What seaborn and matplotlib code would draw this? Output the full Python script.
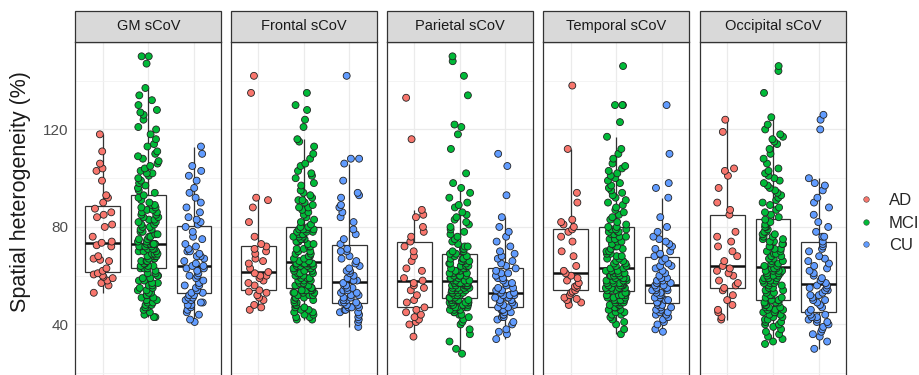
import numpy as np
import pandas as pd
import matplotlib
matplotlib.use("Agg")
import matplotlib.pyplot as plt
from matplotlib.patches import Rectangle
from matplotlib.lines import Line2D
import seaborn as sns

# ---------------- data ----------------
panels = ["GM sCoV", "Frontal sCoV", "Parietal sCoV", "Temporal sCoV", "Occipital sCoV"]
groups = ["AD", "MCI", "CU"]
colors = ["#F8766D", "#00BA38", "#619CFF"]
y_ticks = [40, 80, 120]
y_label = "Spatial heterogeneity (%)"

gm_ad = [53, 56, 57, 58, 59, 59.5, 60, 60.5, 61, 62, 63, 66, 66.5, 67, 68, 72, 72.5,
         73.5, 74, 76, 80, 81, 84, 85, 86, 87.5, 90, 92, 93, 99, 103, 104, 106, 111, 118]
gm_mci = [43, 43, 44, 45, 46, 47, 47, 48, 48, 49, 49, 50, 50, 51, 51, 52, 52, 53, 53, 54, 54,
          55, 55, 56, 56, 57, 57, 58, 58, 59, 59, 60, 60, 61, 61, 62,
          63, 63, 63, 64, 64, 64, 65, 65, 65, 66, 66, 66, 67, 67, 67, 68, 68, 68, 69, 69, 69,
          70, 70, 70, 71, 71, 71, 72, 72, 72, 72, 73, 73, 73, 73, 73,
          73, 74, 74, 75, 75, 76, 76, 77, 77, 78, 78, 79, 79, 80, 80, 81, 81, 82, 82, 83, 83,
          84, 84, 85, 85, 86, 86, 87, 87, 88, 88, 89, 89, 90, 91, 92,
          93, 94, 95, 96, 97, 98, 99, 100, 101, 102, 102, 103, 104, 105, 106, 107, 108, 109,
          110, 111, 113, 114, 116, 118, 120, 121, 124, 126, 127, 128, 130, 132, 134, 137,
          147, 150, 150]
gm_cu = [41, 42, 44, 45, 46, 47, 48, 48, 49, 49, 50, 50, 51, 51, 52, 52,
         53, 53, 54, 55, 56, 56, 57, 58, 59, 60, 60, 61, 62, 63, 63, 64,
         64, 65, 66, 67, 68, 68, 69, 70, 70, 71, 72, 73, 75, 76, 78, 80,
         81, 82, 83, 84, 86, 88, 90, 92, 94, 96, 99, 101, 103, 105, 110, 113]

fr_ad = [46, 47, 48, 50, 51, 52, 53, 53.5, 54, 56, 57, 58, 59, 60, 60, 61,
         61.5, 63, 65, 66, 67, 69, 70, 71, 72, 73, 76, 82, 88, 91, 92, 135, 142]
fr_mci = [42, 42, 43, 43, 44, 44, 45, 45, 46, 46, 47, 47, 48, 48, 49, 49, 50, 50,
          51, 51, 51, 52, 52, 52, 53, 53, 53, 53, 54, 54, 54, 54, 54, 54, 55, 55,
          55, 56, 56, 57, 57, 58, 58, 58, 59, 59, 59, 60, 60, 60, 61, 61, 61, 62, 62, 62,
          63, 63, 63, 63, 64, 64, 64, 64, 65, 65, 65, 65, 65, 65, 65, 65,
          66, 66, 67, 67, 68, 68, 69, 69, 70, 70, 71, 71, 72, 72, 73, 73, 74, 74, 74,
          75, 75, 75, 76, 76, 76, 77, 77, 77, 78, 78, 78, 79, 79, 79, 79, 80,
          80, 81, 82, 83, 84, 85, 86, 87, 88, 88, 89, 90, 91, 91, 92, 93, 94, 95, 97, 98,
          100, 101, 102, 103, 105, 106, 108, 110, 113, 115, 116, 121, 124, 128, 130, 135]
fr_cu = [39, 41, 42, 43, 44, 45, 45, 46, 46, 47, 47, 47, 48, 48, 48, 49,
         49, 49, 50, 50, 51, 51, 52, 52, 53, 53, 54, 54, 55, 55, 56, 56,
         57, 58, 58, 59, 60, 61, 62, 62, 63, 64, 65, 66, 67, 68, 70, 70,
         71, 73, 75, 77, 79, 82, 84, 86, 88, 89, 92, 93, 94, 99, 106, 108, 108, 142]

pa_ad = [35, 40, 41, 42, 43, 44, 45, 46, 47, 49, 50, 52, 54, 55, 56, 57,
         58, 59, 62, 63, 66, 68, 70, 72, 74, 76, 78, 80, 84, 85, 87, 116, 133]
pa_mci = [28, 30, 33, 36, 38, 40, 41, 42, 43, 44, 44, 45, 45, 46, 46, 46, 47, 47, 47, 47,
          48, 48, 48, 48, 48, 49, 49, 49, 49, 49, 49, 50, 50, 50, 50, 50,
          51, 51, 51, 51, 52, 52, 52, 52, 53, 53, 53, 53, 54, 54, 54, 54, 54,
          55, 55, 55, 55, 55, 56, 56, 56, 56, 56, 56, 57, 57, 57, 57, 57, 57, 57, 57,
          58, 58, 58, 58, 59, 59, 59, 59, 60, 60, 60, 60, 61, 61, 61, 62, 62, 62,
          63, 63, 63, 64, 64, 64, 65, 65, 65, 66, 66, 66, 67, 67, 67, 68, 68, 69,
          69, 70, 70, 71, 71, 72, 72, 73, 74, 75, 76, 77, 78, 79, 80, 81, 82, 83, 84, 85, 86,
          88, 89, 90, 92, 94, 96, 98, 102, 112, 118, 121, 122, 134, 142, 148, 150]
pa_cu = [34, 36, 37, 38, 40, 41, 42, 43, 43, 44, 44, 45, 45, 46, 46, 46,
         47, 47, 48, 48, 49, 49, 50, 50, 51, 51, 51, 52, 52, 52, 52, 52,
         53, 53, 54, 54, 55, 55, 56, 57, 57, 58, 59, 59, 60, 61, 61, 62,
         63, 64, 65, 66, 67, 68, 69, 70, 72, 74, 76, 78, 80, 84, 93, 105, 110]

te_ad = [48, 49, 50, 50.5, 51, 52, 53, 53.5, 54, 55, 55.5, 56, 57, 58, 59, 60,
         61, 62, 64, 68, 70, 74, 76, 78, 79, 80, 81, 82, 83, 90, 94, 112, 138]
te_mci = [36, 38, 40, 41, 42, 43, 44, 44, 45, 45, 46, 46, 47, 47, 47, 48, 48, 48,
          49, 49, 49, 49, 50, 50, 50, 50, 51, 51, 51, 51, 52, 52, 52, 52, 53, 53,
          54, 54, 54, 55, 55, 55, 55, 56, 56, 56, 56, 57, 57, 57, 57, 58, 58, 58, 58,
          59, 59, 59, 59, 60, 60, 60, 60, 61, 61, 61, 61, 62, 62, 62, 62, 63,
          63, 64, 64, 65, 65, 66, 66, 67, 67, 68, 68, 69, 69, 70, 70, 71, 71, 72, 72,
          73, 73, 74, 74, 75, 75, 76, 76, 77, 77, 78, 78, 78, 79, 79, 79, 80,
          80, 81, 82, 83, 84, 85, 86, 87, 88, 89, 90, 91, 92, 93, 94, 95, 96, 97, 98, 99,
          100, 101, 102, 103, 104, 105, 106, 108, 110, 112, 117, 123, 130, 130, 130, 146]
te_cu = [37, 38, 40, 41, 42, 43, 44, 44, 45, 45, 46, 46, 47, 47, 48, 48,
         49, 49, 50, 50, 51, 51, 52, 52, 53, 53, 54, 54, 54, 55, 55, 55,
         56, 56, 57, 57, 58, 58, 59, 59, 60, 61, 62, 63, 64, 64, 65, 66,
         67, 68, 69, 70, 71, 72, 73, 74, 75, 76, 78, 80, 84, 92, 96, 98, 110, 130]

oc_ad = [42, 43, 45, 46, 48, 50, 52, 54, 55, 56, 57, 58, 60, 61, 62, 63,
         64, 66, 68, 70, 72, 74, 76, 78, 85, 87, 90, 96, 101, 103, 104, 119, 124]
oc_mci = [32, 33, 34, 35, 36, 37, 38, 39, 40, 40, 41, 41, 42, 42, 43, 43, 44, 44,
          45, 45, 45, 46, 46, 46, 47, 47, 47, 48, 48, 48, 49, 49, 49, 49, 50, 50,
          50, 51, 51, 52, 52, 53, 53, 54, 54, 55, 55, 56, 56, 57, 57, 57, 58, 58, 58,
          59, 59, 59, 60, 60, 60, 61, 61, 61, 62, 62, 62, 62, 63, 63, 63, 63,
          64, 64, 65, 65, 66, 66, 67, 67, 68, 68, 69, 69, 70, 70, 71, 71, 72, 72, 73, 73,
          74, 74, 75, 75, 76, 76, 77, 77, 78, 78, 79, 80, 80, 81, 82, 83,
          84, 85, 86, 87, 88, 89, 90, 91, 92, 93, 94, 95, 96, 97, 98, 99, 100, 101, 102,
          103, 104, 106, 108, 110, 112, 114, 115, 116, 117, 118, 120, 122, 125, 135, 144, 146]
oc_cu = [30, 33, 35, 36, 37, 38, 39, 40, 41, 41, 42, 42, 43, 43, 44, 44,
         45, 46, 47, 48, 49, 50, 50, 51, 52, 52, 53, 54, 54, 55, 55, 56,
         56, 57, 58, 59, 60, 61, 62, 63, 64, 65, 66, 67, 68, 70, 71, 72,
         73, 74, 76, 76, 78, 80, 82, 85, 88, 90, 92, 95, 97, 98, 100, 120, 124, 126]

panel_data = {
    "GM sCoV": (gm_ad, gm_mci, gm_cu),
    "Frontal sCoV": (fr_ad, fr_mci, fr_cu),
    "Parietal sCoV": (pa_ad, pa_mci, pa_cu),
    "Temporal sCoV": (te_ad, te_mci, te_cu),
    "Occipital sCoV": (oc_ad, oc_mci, oc_cu),
}

# ---------------- style ----------------
sns.set_theme(style="white")
plt.rcParams["font.family"] = ["Liberation Sans", "DejaVu Sans"]

W, H = 919, 375
fig = plt.figure(figsize=(W / 100, H / 100), dpi=100)

ylim = (15, 156)
px_per_unit = 2.4375
top_px = 41.7
ax_h_px = (ylim[1] - ylim[0]) * px_per_unit
ax_w_px = 146
lefts = [75.3, 230.8, 386.8, 543.3, 700.0]
strip_px = 30.7
edge = "#333333"
palette = dict(zip(groups, colors))

np.random.seed(7)
for i, name in enumerate(panels):
    ad, mci, cu = panel_data[name]
    df = pd.DataFrame({
        "group": ["AD"] * len(ad) + ["MCI"] * len(mci) + ["CU"] * len(cu),
        "value": list(ad) + list(mci) + list(cu),
    })
    bottom_px = top_px + ax_h_px
    ax = fig.add_axes([lefts[i] / W, (H - bottom_px) / H, ax_w_px / W, ax_h_px / H])
    ax.set_axisbelow(True)
    sns.boxplot(data=df, x="group", y="value", order=groups, ax=ax, width=0.76,
                showfliers=False, showcaps=False, color="white", linecolor=edge,
                linewidth=0.9,
                medianprops=dict(color="#111111", linewidth=1.8),
                whiskerprops=dict(color=edge, linewidth=0.9))
    for p in ax.patches:
        p.set_facecolor("none")
        p.set_zorder(2)
    sns.stripplot(data=df, x="group", y="value", hue="group", order=groups,
                  hue_order=groups, palette=palette, jitter=0.23, size=5.0,
                  linewidth=0.6, edgecolor="#222222", legend=False, ax=ax, zorder=3)
    ax.set_xlim(-0.6, 2.6)
    ax.set_ylim(*ylim)
    ax.set_xlabel("")
    ax.set_ylabel("")
    ax.set_xticks([0, 1, 2])
    ax.set_xticklabels([])
    ax.tick_params(axis="x", length=0)
    ax.set_yticks(y_ticks)
    ax.set_yticks([20, 60, 100, 140], minor=True)
    ax.grid(True, which="major", color="#EBEBEB", linewidth=0.9)
    ax.grid(True, which="minor", axis="y", color="#F2F2F2", linewidth=0.6)
    if i == 0:
        ax.set_yticklabels([str(t) for t in y_ticks], color="#4D4D4D", fontsize=11)
        ax.tick_params(axis="y", which="major", length=3, width=0.8, color=edge, pad=2)
        ax.tick_params(axis="y", which="minor", length=0)
    else:
        ax.set_yticklabels([])
        ax.tick_params(axis="y", which="both", length=0)
    for s in ax.spines.values():
        s.set_color(edge)
        s.set_linewidth(0.9)
    h = strip_px / ax_h_px
    ax.add_patch(Rectangle((0, 1), 1, h, transform=ax.transAxes, clip_on=False,
                           facecolor="#D9D9D9", edgecolor=edge, linewidth=0.9, zorder=5))
    ax.text(0.5, 1 + h / 2, name, transform=ax.transAxes, ha="center", va="center",
            fontsize=10.5, color="#1A1A1A", zorder=6)

fig.text(21 / W, 1 - 191.5 / H, y_label, rotation=90, ha="center", va="center",
         fontsize=15.5, color="#1A1A1A")

handles = [Line2D([], [], linestyle="none", marker="o", markersize=4.0,
                  markerfacecolor=c, markeredgecolor="#444444", markeredgewidth=0.4)
           for c in colors]
fig.legend(handles, groups, loc="center left", bbox_to_anchor=(858 / W, 1 - 223 / H),
           frameon=False, fontsize=12, handlelength=1.0, handletextpad=0.85,
           labelspacing=0.45, borderpad=0, borderaxespad=0)

fig.savefig("out.png", dpi=100)
